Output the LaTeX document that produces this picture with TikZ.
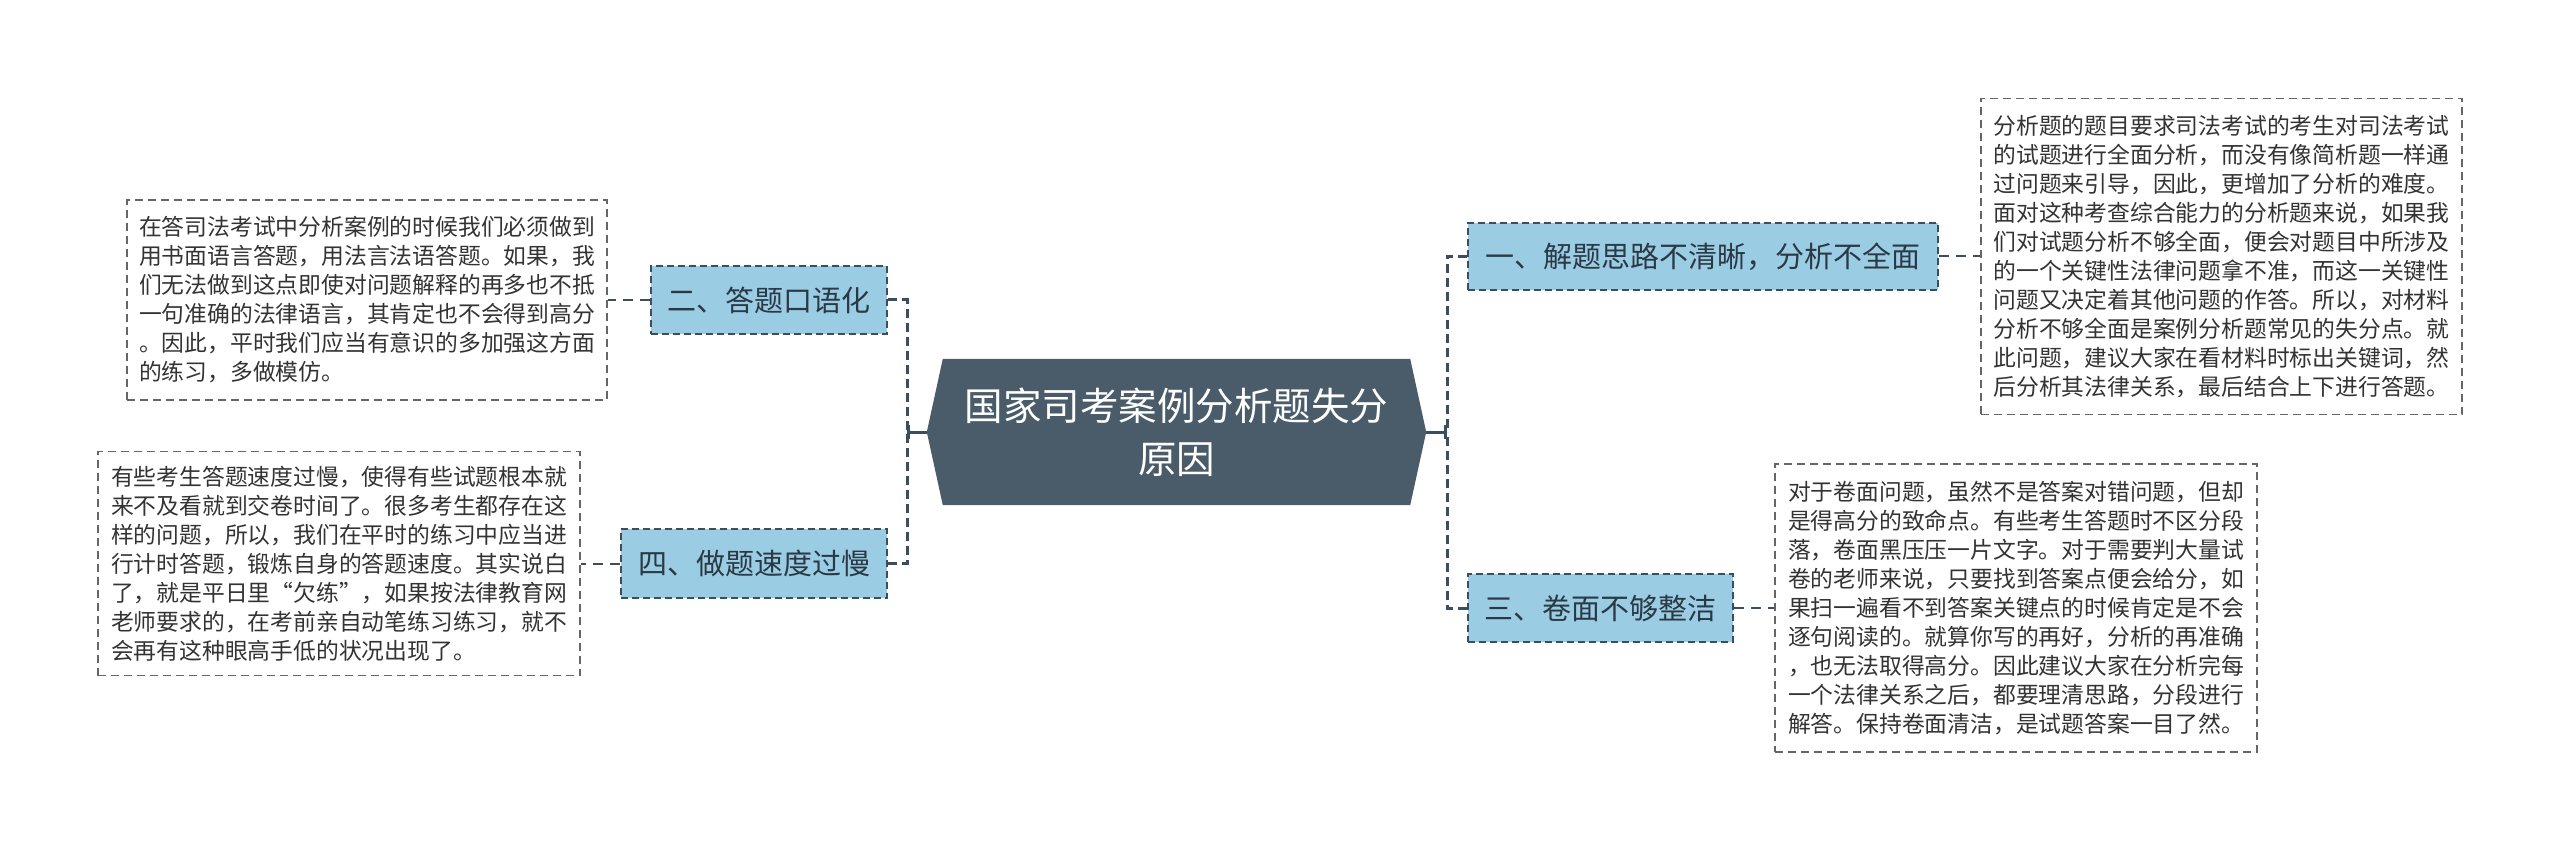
\documentclass[tikz,border=0pt]{standalone}
\usepackage{fontspec}
\setmainfont{Noto Sans CJK SC}
\usetikzlibrary{arrows.meta,calc}
\definecolor{hubc}{HTML}{4A5B6A}
\definecolor{branchc}{HTML}{9ACCE3}
\definecolor{edgec}{HTML}{3C4E5D}
\definecolor{leafc}{HTML}{666666}
\definecolor{textc}{HTML}{333333}
\definecolor{btextc}{HTML}{2B3945}
\pgfdeclarelayer{bg}
\pgfsetlayers{bg,main}
\begin{document}
\begin{tikzpicture}[x=1pt,y=-1pt,
  branchbox/.style={draw=edgec, line width=2pt, dash pattern=on 7pt off 4pt, fill=branchc, text=btextc, font=\fontsize{29}{35}\selectfont, inner sep=0pt},
  leafbox/.style={draw=leafc, line width=1.5pt, dash pattern=on 8pt off 5pt, fill=white, text=textc, align=left, font=\fontsize{22.8}{29}\selectfont, inner sep=0pt},
  hubtext/.style={text=white, align=center, font=\fontsize{38.5}{53}\selectfont, inner sep=0pt, minimum width=467pt, minimum height=146pt},
  trunk/.style={draw=edgec, line width=3pt, dash pattern=on 9pt off 5pt},
  leafline/.style={draw=edgec, line width=2pt, dash pattern=on 10pt off 7pt},
  stub/.style={draw=edgec, line width=3pt, -{Bar[width=14pt]}}
]
\useasboundingbox (0,0) rectangle (2560,850);

% hub
\node[hubtext] (hub) at (1176.5,432) {国家司考案例分析题失分\\原因};
\coordinate (hubL) at ($(hub.west)+(-16,0)$);
\coordinate (hubR) at ($(hub.east)+(16,0)$);
\begin{pgfonlayer}{bg}
\fill[white] (0,0) rectangle (2560,850);
\fill[hubc] (hub.north west) -- (hub.north east) -- (hubR) -- (hub.south east) -- (hub.south west) -- (hubL) -- cycle;
\end{pgfonlayer}

% junctions
\coordinate (jl) at (907,432);
\coordinate (jr) at (1447,432);

% branches
\node[branchbox, minimum width=236pt, minimum height=68pt] (b2) at (769,300) {二、答题口语化};
\node[branchbox, minimum width=266pt, minimum height=69pt] (b4) at (754,563.5) {四、做题速度过慢};
\node[branchbox, minimum width=470pt, minimum height=67pt] (b1) at (1703,256.5) {一、解题思路不清晰，分析不全面};
\node[branchbox, minimum width=265pt, minimum height=68pt] (b3) at (1600.5,608) {三、卷面不够整洁};

% leaves
\node[leafbox, minimum width=480pt, minimum height=200pt] (l2) at (367,300) {在答司法考试中分析案例的时候我们必须做到\\
用书面语言答题，用法言法语答题。如果，我\\
们无法做到这点即使对问题解释的再多也不抵\\
一句准确的法律语言，其肯定也不会得到高分\\
。因此，平时我们应当有意识的多加强这方面\\
的练习，多做模仿。};
\node[leafbox, minimum width=482pt, minimum height=224pt] (l4) at (339,563.5) {有些考生答题速度过慢，使得有些试题根本就\\
来不及看就到交卷时间了。很多考生都存在这\\
样的问题，所以，我们在平时的练习中应当进\\
行计时答题，锻炼自身的答题速度。其实说白\\
了，就是平日里“欠练”，如果按法律教育网\\
老师要求的，在考前亲自动笔练习练习，就不\\
会再有这种眼高手低的状况出现了。};
\node[leafbox, minimum width=481pt, minimum height=316pt] (l1) at (2221.5,256.5) {分析题的题目要求司法考试的考生对司法考试\\
的试题进行全面分析，而没有像简析题一样通\\
过问题来引导，因此，更增加了分析的难度。\\
面对这种考查综合能力的分析题来说，如果我\\
们对试题分析不够全面，便会对题目中所涉及\\
的一个关键性法律问题拿不准，而这一关键性\\
问题又决定着其他问题的作答。所以，对材料\\
分析不够全面是案例分析题常见的失分点。就\\
此问题，建议大家在看材料时标出关键词，然\\
后分析其法律关系，最后结合上下进行答题。};
\node[leafbox, minimum width=482pt, minimum height=288pt] (l3) at (2016,608) {对于卷面问题，虽然不是答案对错问题，但却\\
是得高分的致命点。有些考生答题时不区分段\\
落，卷面黑压压一片文字。对于需要判大量试\\
卷的老师来说，只要找到答案点便会给分，如\\
果扫一遍看不到答案关键点的时候肯定是不会\\
逐句阅读的。就算你写的再好，分析的再准确\\
，也无法取得高分。因此建议大家在分析完每\\
一个法律关系之后，都要理清思路，分段进行\\
解答。保持卷面清洁，是试题答案一目了然。};

% connectors
\draw[trunk] (b2.east) -| (jl);
\draw[trunk] (b4.east) -| (jl);
\draw[trunk] (b1.west) -| (jr);
\draw[trunk] (b3.west) -| (jr);
\draw[stub] (hubL) -- (jl);
\draw[stub] (hubR) -- (jr);
\draw[leafline] (b2.west) -- (l2.east);
\draw[leafline] (b4.west) -- (l4.east);
\draw[leafline] (b1.east) -- (l1.west);
\draw[leafline] (b3.east) -- (l3.west);
\end{tikzpicture}
\end{document}
